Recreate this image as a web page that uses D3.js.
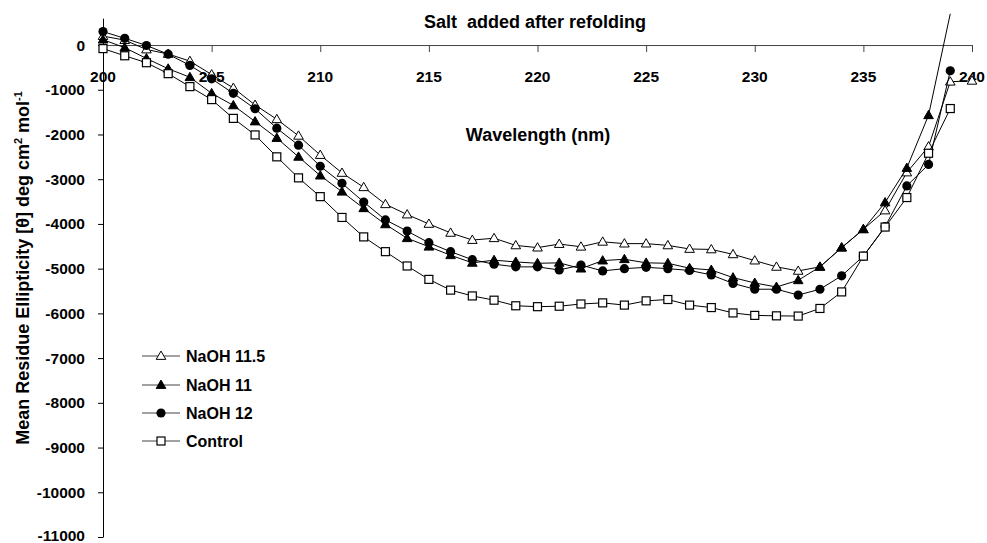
<!DOCTYPE html>
<html>
<head>
<meta charset="utf-8">
<script src="https://cdn.jsdelivr.net/npm/d3@7"></script>
<style>
body { margin: 0; background: #fff; }
svg text { font-family: "Liberation Sans", Arial, sans-serif; font-weight: bold; fill: #000; }
</style>
</head>
<body>
<svg id="chart" width="987" height="543"></svg>
<script>
// Data (wavelength in nm, ellipticity)
const wavelengths = [200, 201, 202, 203, 204, 205, 206, 207, 208, 209, 210,
  211, 212, 213, 214, 215, 216, 217, 218, 219, 220,
  221, 222, 223, 224, 225, 226, 227, 228, 229, 230,
  231, 232, 233, 234, 235, 236, 237, 238, 239, 240];

const naoh115 = [200, 110, -100, -200, -360, -660, -960, -1340, -1660, -2030, -2460,
  -2860, -3180, -3560, -3790, -4000, -4200, -4360, -4320, -4480, -4530,
  -4450, -4510, -4400, -4440, -4440, -4480, -4560, -4570, -4680, -4820,
  -4960, -5050, -4960, -4530, -4120, -3700, -2850, -2270, -820, -800];

const naoh11 = [120, -60, -300, -530, -720, -1080, -1350, -1710, -2080, -2500, -2920,
  -3280, -3650, -4010, -4320, -4510, -4700, -4870, -4810, -4850, -4880,
  -4870, -5000, -4820, -4790, -4870, -4880, -4990, -5030, -5200, -5320,
  -5410, -5260, -4960, -4530, -4120, -3520, -2750, -1570, 700, null];

const naoh12 = [300, 150, -10, -205, -455, -755, -1080, -1425, -1860, -2240, -2710,
  -3090, -3510, -3910, -4160, -4420, -4620, -4800, -4900, -4960, -4960,
  -5030, -4920, -5050, -5000, -4970, -5000, -5040, -5140, -5330, -5460,
  -5460, -5590, -5460, -5160, -4720, -4060, -3150, -2670, -575, null];

const control = [-80, -240, -395, -640, -930, -1220, -1640, -2010, -2500, -2970, -3390,
  -3855, -4290, -4620, -4940, -5240, -5480, -5610, -5705, -5830, -5850,
  -5840, -5790, -5765, -5815, -5720, -5690, -5815, -5870, -5990, -6045,
  -6055, -6060, -5890, -5520, -4720, -4070, -3410, -2420, -1420, null];

const seriesNames = ["NaOH 11.5", "NaOH 11", "NaOH 12", "Control"];
const seriesValues = [naoh115, naoh11, naoh12, control];
const seriesMarkers = ["triangle-open", "triangle", "circle", "square-open"];

const xTicks = [200, 205, 210, 215, 220, 225, 230, 235, 240];
const yTicks = [0, -1000, -2000, -3000, -4000, -5000, -6000, -7000, -8000, -9000, -10000, -11000];

const svg = d3.select("#chart");

// Scales
const x = d3.scaleLinear().domain([200, 240]).range([103, 972]);
const y = d3.scaleLinear().domain([-11000, 600]).range([537, 18.2]);

// Y axis
const yAxis = svg.append("g")
  .attr("transform", `translate(${x(200)},0)`)
  .call(d3.axisLeft(y)
    .tickValues(yTicks)
    .tickSize(5)
    .tickSizeOuter(0)
    .tickPadding(13)
    .tickFormat(d => String(d)));
yAxis.select(".domain").attr("stroke", "#000");
yAxis.selectAll(".tick line").attr("stroke", "#000");
yAxis.selectAll(".tick text")
  .style("font-size", "15.5px")
  .style("font-family", "'Liberation Sans', Arial, sans-serif")
  .style("font-weight", "bold")
  .attr("dy", d => d === -11000 ? "0.2em" : "0.32em");

// X axis, crossing at zero
const xAxis = svg.append("g")
  .attr("transform", `translate(0,${y(0)})`)
  .call(d3.axisBottom(x)
    .tickValues(xTicks)
    .tickSize(7)
    .tickSizeOuter(0)
    .tickFormat(""));
xAxis.select(".domain").attr("stroke", "#444");
xAxis.selectAll(".tick line").attr("stroke", "#444");

svg.append("g").selectAll("text")
  .data(xTicks)
  .join("text")
  .attr("x", d => x(d))
  .attr("y", 81.5)
  .attr("text-anchor", "middle")
  .style("font-size", "15.5px")
  .text(d => d);

// Titles
svg.append("text")
  .attr("x", 535)
  .attr("y", 28)
  .attr("text-anchor", "middle")
  .style("font-size", "18px")
  .style("white-space", "pre")
  .text("Salt  added after refolding");

svg.append("text")
  .attr("x", 538)
  .attr("y", 141)
  .attr("text-anchor", "middle")
  .style("font-size", "18px")
  .text("Wavelength (nm)");

const yTitle = svg.append("text")
  .attr("transform", "translate(29,268) rotate(-90)")
  .attr("text-anchor", "middle")
  .style("font-size", "18px");
yTitle.append("tspan").text("Mean Residue Ellipticity [θ] deg cm");
yTitle.append("tspan").attr("dy", -7).style("font-size", "11px").text("2");
yTitle.append("tspan").attr("dy", 7).text(" mol");
yTitle.append("tspan").attr("dy", -7).style("font-size", "11px").text("-1");

// Marker drawing
function drawMarker(g, type, cx, cy) {
  if (type === "circle") {
    g.append("circle")
      .attr("cx", cx).attr("cy", cy).attr("r", 4.6)
      .attr("fill", "#000");
  } else if (type.startsWith("triangle")) {
    g.append("path")
      .attr("d", d3.symbol(d3.symbolTriangle, 40)())
      .attr("transform", `translate(${cx},${cy + 0.6})`)
      .attr("fill", type === "triangle" ? "#000" : "#fff")
      .attr("stroke", "#000")
      .attr("stroke-width", 1);
  } else {
    g.append("rect")
      .attr("x", cx - 4).attr("y", cy - 4)
      .attr("width", 8).attr("height", 8)
      .attr("fill", "#fff")
      .attr("stroke", "#000")
      .attr("stroke-width", 1.2);
  }
}

const line = d3.line()
  .defined(d => d[1] != null)
  .x(d => x(d[0]))
  .y(d => y(d[1]));

// Series
seriesValues.forEach((vals, i) => {
  const pts = wavelengths.map((w, j) => [w, vals[j]]);
  const g = svg.append("g");
  g.append("path")
    .datum(pts)
    .attr("fill", "none")
    .attr("stroke", "#000")
    .attr("stroke-width", 1)
    .attr("d", line);
  // markers above the axis top are not drawn (off the plot area)
  pts.filter(p => p[1] != null && p[1] <= 600)
    .forEach(p => drawMarker(g, seriesMarkers[i], x(p[0]), y(p[1])));
});

// Legend
const legendY = [356, 385, 413, 441];
seriesNames.forEach((name, i) => {
  const g = svg.append("g");
  g.append("line")
    .attr("x1", 142).attr("x2", 180)
    .attr("y1", legendY[i]).attr("y2", legendY[i])
    .attr("stroke", "#444")
    .attr("stroke-width", 1);
  drawMarker(g, seriesMarkers[i], 161, legendY[i]);
  g.append("text")
    .attr("x", 186)
    .attr("y", legendY[i] + 5.6)
    .style("font-size", "16px")
    .text(name);
});
</script>
</body>
</html>
